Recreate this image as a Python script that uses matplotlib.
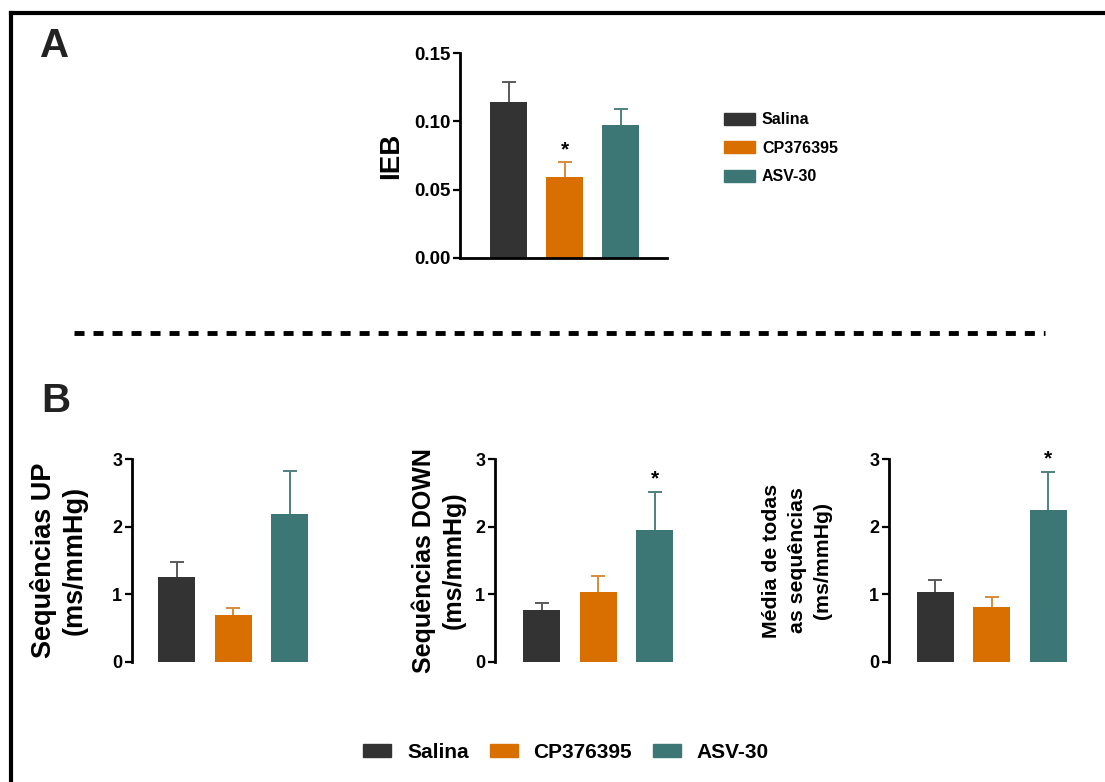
import matplotlib
matplotlib.use("Agg")
import matplotlib.pyplot as plt
from matplotlib.patches import Patch
from matplotlib.lines import Line2D
import numpy as np

plt.rcParams['font.family'] = ['Liberation Sans', 'DejaVu Sans']
plt.rcParams['font.weight'] = 'bold'
plt.rcParams['axes.labelweight'] = 'bold'

# dados
grupos = ['Salina', 'CP376395', 'ASV-30']
cores = ['#333333', '#D96F00', '#3D7775']
cores_erro = ['#5a5a5a', '#D98A3A', '#4F817F']

ieb_media = [0.114, 0.059, 0.097]
ieb_erro = [0.015, 0.011, 0.012]
ieb_sig = [None, '*', None]

up_media = [1.25, 0.69, 2.19]
up_erro = [0.23, 0.11, 0.64]
up_sig = [None, None, None]

down_media = [0.77, 1.03, 1.95]
down_erro = [0.10, 0.24, 0.56]
down_sig = [None, None, '*']

todas_media = [1.03, 0.82, 2.25]
todas_erro = [0.18, 0.14, 0.56]
todas_sig = [None, None, '*']

W, H = 1105, 782
fig = plt.figure(figsize=(W / 100, H / 100), dpi=100)


def eixo(x0, y_top, x1, y_bot):
    return fig.add_axes([x0 / W, 1 - y_bot / H, (x1 - x0) / W, (y_bot - y_top) / H])


def barras(ax, media, erro, sig, largura, sig_offset):
    x = np.arange(len(media))
    ax.bar(x, media, width=largura, color=cores, zorder=2)
    for i in range(len(media)):
        eb = ax.errorbar(x[i], media[i], yerr=[[0], [erro[i]]], fmt='none',
                         ecolor=cores_erro[i], elinewidth=1.4, capsize=5,
                         capthick=1.4, zorder=1)
        eb[1][0].set_visible(False)  # sem tampa na base
        if sig[i]:
            ax.text(x[i], media[i] + erro[i] + sig_offset, sig[i],
                    ha='center', va='bottom', fontsize=15, fontweight='bold')
    ax.spines['top'].set_visible(False)
    ax.spines['right'].set_visible(False)
    ax.spines['left'].set_linewidth(2)
    ax.spines['bottom'].set_linewidth(2)
    ax.set_xticks([])
    ax.tick_params(axis='y', direction='out', length=5, width=1.6, pad=2)


# Painel A
axA = eixo(460, 53, 667, 258)
barras(axA, ieb_media, ieb_erro, ieb_sig, 0.66, 0.002)
axA.set_xlim(-0.866, 2.83)
axA.set_ylim(0, 0.15)
axA.set_yticks([0, 0.05, 0.10, 0.15])
axA.set_yticklabels(['0.00', '0.05', '0.10', '0.15'], fontsize=13.5, fontweight='bold')
axA.set_ylabel('IEB', fontsize=20, fontweight='bold', va='center')
axA.yaxis.set_label_coords(-0.333, 0.5)

fig.legend(handles=[Patch(color=c, label=g) for c, g in zip(cores, grupos)],
           loc='upper left', bbox_to_anchor=(718 / W, 1 - 106 / H),
           frameon=False, fontsize=11.5, handlelength=1.9, handleheight=0.75,
           handletextpad=0.45, labelspacing=0.84, borderaxespad=0)

# Painel B
esp = 56.5
painel_b = [
    (132, 176.5, up_media, up_erro, up_sig, 'Sequências UP\n(ms/mmHg)', 19.5, -0.406, 1.2),
    (495, 541.5, down_media, down_erro, down_sig, 'Sequências DOWN\n(ms/mmHg)', 18, -0.314, 1.32),
    (889, 935, todas_media, todas_erro, todas_sig, 'Média de todas\nas sequências\n(ms/mmHg)', 15.3, -0.511, 1.45),
]
for x0, c0, media, erro, sig, rotulo, fs, lx, ls in painel_b:
    ax = eixo(x0, 459, x0 + 180, 662)
    barras(ax, media, erro, sig, 37 / esp, 0.05)
    esq = -(c0 - x0) / esp
    ax.set_xlim(esq, esq + 180 / esp)
    ax.set_ylim(0, 3)
    ax.spines['bottom'].set_visible(False)
    ax.set_yticks([0, 1, 2, 3])
    ax.set_yticklabels(['0', '1', '2', '3'], fontsize=13, fontweight='bold')
    ax.set_ylabel(rotulo, fontsize=fs, fontweight='bold', va='center', linespacing=ls)
    ax.yaxis.set_label_coords(lx, 0.5)

fig.legend(handles=[Patch(color=c, label=g) for c, g in zip(cores, grupos)],
           loc='center', bbox_to_anchor=(566 / W, 1 - 752 / H), ncol=3,
           frameon=False, fontsize=15, handlelength=1.35, handleheight=0.58,
           handletextpad=0.75, columnspacing=1.0, borderaxespad=0)

# letras dos painéis
fig.text(40 / W, 1 - 57 / H, 'A', fontsize=29, fontweight='bold', color='#222222')
fig.text(41 / W, 1 - 412 / H, 'B', fontsize=29, fontweight='bold', color='#222222')

# linha tracejada separando os painéis
fig.add_artist(Line2D([74 / W, 1045 / W], [1 - 333 / H, 1 - 333 / H],
                      color='black', lw=3.5, linestyle=(0, (2.06, 1.85))))

# moldura (superior e esquerda)
fig.add_artist(Line2D([11 / W, 1.0], [1 - 13 / H, 1 - 13 / H], color='black', lw=3))
fig.add_artist(Line2D([11 / W, 11 / W], [0, 1 - 13 / H], color='black', lw=3))

fig.savefig('out.png', dpi=100)
